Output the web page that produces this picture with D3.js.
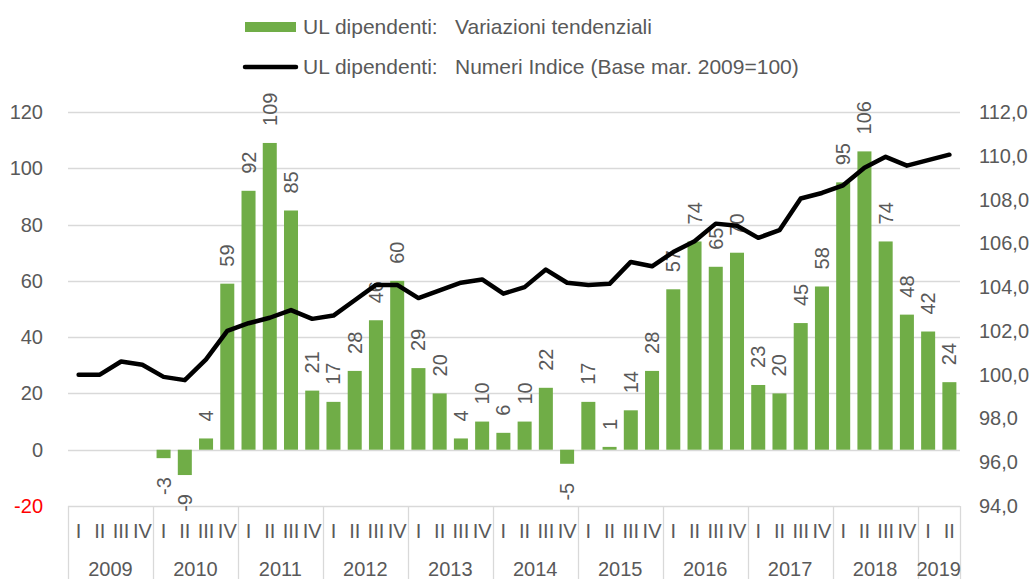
<!DOCTYPE html>
<html>
<head>
<meta charset="utf-8">
<script src="https://cdn.jsdelivr.net/npm/d3@7"></script>
<style>
  body { margin: 0; background: #fff; }
  svg { display: block; font-family: "Liberation Sans", Arial, sans-serif; }
</style>
</head>
<body>
<svg id="chart" width="1035" height="579"></svg>
<script>
/* Data */
var years = ["2009", "2010", "2011", "2012", "2013", "2014", "2015", "2016", "2017", "2018", "2019"];
var quarters = ["I", "II", "III", "IV"];
// quarterly changes (null = no bar)
var variazioni = [
  null, null, null, null,
  -3, -9, 4, 59,
  92, 109, 85, 21,
  17, 28, 46, 60,
  29, 20, 4, 10,
  6, 10, 22, -5,
  17, 1, 14, 28,
  57, 74, 65, 70,
  23, 20, 45, 58,
  95, 106, 74, 48,
  42, 24
];
// index numbers (base mar. 2009 = 100)
var indice = [
  100.0, 100.0, 100.6, 100.45,
  99.9, 99.75, 100.7, 102.0,
  102.35, 102.6, 102.95, 102.55,
  102.7, 103.4, 104.1, 104.1,
  103.5, 103.85, 104.2, 104.35,
  103.7, 104.0, 104.8, 104.2,
  104.1, 104.15, 105.15, 104.95,
  105.6, 106.1, 106.9, 106.8,
  106.25, 106.6, 108.05, 108.3,
  108.65, 109.45, 109.95, 109.55,
  109.8, 110.05
];
var leftTicks = [-20, 0, 20, 40, 60, 80, 100, 120];
var rightTicks = [94, 96, 98, 100, 102, 104, 106, 108, 110, 112];
var legendSeries = "UL dipendenti:";
var legendLabels = ["Variazioni tendenziali", "Numeri Indice (Base mar. 2009=100)"];

/* Options */
var green = "#70AD47";
var textColor = "#595959";
var gridColor = "#d9d9d9";
var fontSize = 20;

// one category per quarter
var cats = [];
years.forEach(function(y){
  quarters.forEach(function(q){
    if (cats.length < variazioni.length) cats.push({year: y, q: q, key: y + q});
  });
});

var svg = d3.select("#chart");
var plotLeft = 68, plotRight = 960, plotTop = 112, plotBottom = 506;

var x = d3.scaleBand()
  .domain(cats.map(function(d){ return d.key; }))
  .range([plotLeft, plotRight])
  .paddingInner(0.34)
  .paddingOuter(0.17);
var yL = d3.scaleLinear().domain([-20, 120]).range([plotBottom, plotTop]);
var yR = d3.scaleLinear().domain([94, 112]).range([plotBottom, plotTop]);
var cx = function(i){ return x(cats[i].key) + x.bandwidth()/2; };

// Gridlines
svg.append("g").selectAll("line")
  .data(leftTicks)
  .enter().append("line")
  .attr("x1", plotLeft).attr("x2", plotRight)
  .attr("y1", function(d){ return Math.round(yL(d)) + 0.5; })
  .attr("y2", function(d){ return Math.round(yL(d)) + 0.5; })
  .style("stroke", gridColor)
  .style("stroke-width", 1.3);

// Left axis labels
svg.append("g").selectAll("text")
  .data(leftTicks)
  .enter().append("text")
  .attr("x", 43)
  .attr("y", function(d){ return yL(d); })
  .attr("dy", "0.35em")
  .attr("text-anchor", "end")
  .style("font-size", fontSize + "px")
  .style("fill", function(d){ return d < 0 ? "#ff0000" : textColor; })
  .text(function(d){ return d; });

// Right axis labels
svg.append("g").selectAll("text")
  .data(rightTicks)
  .enter().append("text")
  .attr("x", 979)
  .attr("y", function(d){ return yR(d); })
  .attr("dy", "0.35em")
  .style("font-size", fontSize + "px")
  .style("fill", textColor)
  .text(function(d){ return d3.format(".1f")(d).replace(".", ","); });

// Category axis: year separators
var yearStarts = [];
cats.forEach(function(d, i){ if (d.q === "I") yearStarts.push(i); });
var step = x.step();
var sepX = yearStarts.map(function(i){ return plotLeft + i * step; }).concat([plotRight]);
svg.append("g").selectAll("line")
  .data(sepX)
  .enter().append("line")
  .attr("x1", function(d){ return Math.round(d) + 0.5; })
  .attr("x2", function(d){ return Math.round(d) + 0.5; })
  .attr("y1", plotBottom).attr("y2", 579)
  .style("stroke", gridColor)
  .style("stroke-width", 1.3);

// quarter labels
svg.append("g").selectAll("text")
  .data(cats)
  .enter().append("text")
  .attr("x", function(d, i){ return cx(i); })
  .attr("y", 538)
  .attr("text-anchor", "middle")
  .style("font-size", fontSize + "px")
  .style("fill", textColor)
  .text(function(d){ return d.q; });

// year labels
svg.append("g").selectAll("text")
  .data(yearStarts)
  .enter().append("text")
  .attr("x", function(d, k){ return (sepX[k] + sepX[k+1]) / 2; })
  .attr("y", 576)
  .attr("text-anchor", "middle")
  .style("font-size", fontSize + "px")
  .style("fill", textColor)
  .text(function(d){ return cats[d].year; });

// Bars
var barData = variazioni.map(function(v, i){ return {v: v, i: i}; })
  .filter(function(d){ return d.v !== null; });

svg.append("g").selectAll("rect")
  .data(barData)
  .enter().append("rect")
  .attr("x", function(d){ return x(cats[d.i].key); })
  .attr("width", x.bandwidth())
  .attr("y", function(d){ return yL(Math.max(0, d.v)); })
  .attr("height", function(d){ return Math.abs(yL(d.v) - yL(0)); })
  .style("fill", green);

// Bar labels (rotated)
svg.append("g").selectAll("text")
  .data(barData)
  .enter().append("text")
  .attr("transform", function(d){
    var yy = d.v >= 0 ? yL(d.v) - 17 : yL(d.v) + 19;
    return "translate(" + cx(d.i) + "," + yy + ") rotate(-90)";
  })
  .attr("dy", "0.35em")
  .attr("text-anchor", function(d){ return d.v >= 0 ? "start" : "end"; })
  .style("font-size", fontSize + "px")
  .style("fill", textColor)
  .text(function(d){ return d.v; });

// Index line
var line = d3.line()
  .x(function(d, i){ return cx(i); })
  .y(function(d){ return yR(d); });

svg.append("path")
  .datum(indice)
  .attr("d", line)
  .style("fill", "none")
  .style("stroke", "#000")
  .style("stroke-width", 4.5)
  .style("stroke-linejoin", "round")
  .style("stroke-linecap", "round");

// Legend
var legend = svg.append("g");
legend.append("rect")
  .attr("x", 245).attr("y", 22).attr("width", 51).attr("height", 10)
  .style("fill", green);
legend.append("line")
  .attr("x1", 245).attr("x2", 296).attr("y1", 67).attr("y2", 67)
  .style("stroke", "#000").style("stroke-width", 4.5)
  .style("stroke-linecap", "round");
var items = legend.selectAll("g.item")
  .data(legendLabels)
  .enter().append("g")
  .attr("class", "item")
  .attr("transform", function(d, i){ return "translate(0," + (27 + i * 40) + ")"; });
items.append("text")
  .attr("x", 303)
  .attr("dy", "0.35em")
  .style("font-size", "21px")
  .style("fill", textColor)
  .text(legendSeries);
items.append("text")
  .attr("x", 455)
  .attr("dy", "0.35em")
  .style("font-size", "21px")
  .style("fill", textColor)
  .text(function(d){ return d; });
</script>
</body>
</html>
